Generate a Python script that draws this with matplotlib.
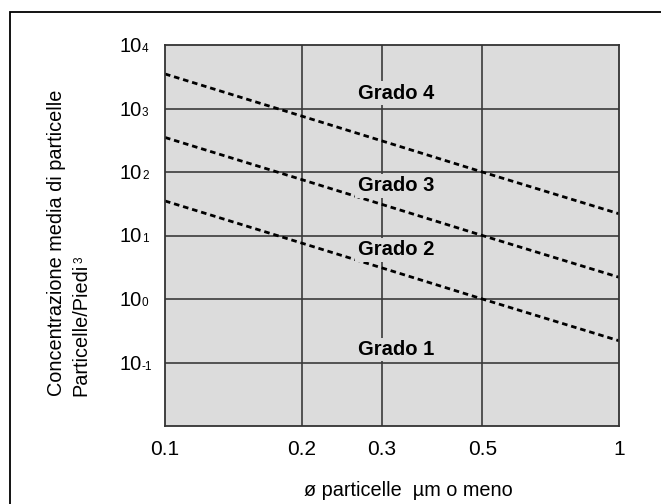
import matplotlib
matplotlib.use('Agg')
import matplotlib.pyplot as plt
import matplotlib.transforms as mtransforms
from matplotlib.patches import Rectangle

plt.rcParams['font.family'] = ['Liberation Sans', 'DejaVu Sans']

# diametro particelle (um) e limiti dei gradi
diametri = [0.1, 0.2, 0.3, 0.5, 1.0]
grado_1 = [35, 7.6, 3.1, 1.0, 0.22]
grado_2 = [350, 76, 31, 10, 2.2]
grado_3 = [3500, 760, 310, 100, 22]

etichette = ['Grado 4', 'Grado 3', 'Grado 2', 'Grado 1']
x_ticks = [0.1, 0.2, 0.3, 0.5, 1]
x_ticklabels = ['0.1', '0.2', '0.3', '0.5', '1']
griglia_x = [0.2, 0.3, 0.5]
esponenti = [-1, 0, 1, 2, 3, 4]

sfondo = '#dcdcdc'
W, H = 661, 504

fig = plt.figure(figsize=(W / 100, H / 100), dpi=100)
ax = fig.add_axes([165 / W, 1 - 426 / H, 454 / W, 381 / H])
ax.set_facecolor(sfondo)
ax.set_xscale('log')
ax.set_yscale('log')
ax.set_xlim(0.1, 1)
ax.set_ylim(1e-2, 1e4)

# griglia
for e in esponenti[:-1]:
    ax.axhline(10.0 ** e, color='#3a3a3a', lw=1.2, zorder=1)
for g in griglia_x:
    ax.axvline(g, color='#3a3a3a', lw=1.2, zorder=1)

for serie in [grado_1, grado_2, grado_3]:
    ax.plot(diametri, serie, color='black', lw=2.0, linestyle=(0, (2.0, 1.4)), zorder=2)

# etichette dei gradi (sfondo grigio che copre la griglia)
pos_y = [0.873, 0.631, 0.463, 0.201]
for testo, yy in zip(etichette, pos_y):
    ax.text(0.509, yy, testo, transform=ax.transAxes, ha='center', va='center',
            fontsize=14.5, fontweight='bold', zorder=3,
            bbox=dict(boxstyle='square,pad=0.12', fc=sfondo, ec='none'))

for s in ax.spines.values():
    s.set_color('#333333')
    s.set_linewidth(1.3)

ax.set_xticks(x_ticks)
ax.set_xticklabels(x_ticklabels, fontsize=15)
ax.xaxis.set_minor_locator(plt.NullLocator())
ax.yaxis.set_minor_locator(plt.NullLocator())
ax.tick_params(axis='x', length=0, pad=10)
ax.set_yticks([])

# etichette asse y del tipo 10 con esponente piccolo
trasf = mtransforms.blended_transform_factory(ax.transAxes, ax.transData)
base = mtransforms.offset_copy(trasf, fig=fig, x=-23, y=-7, units='dots')
for e in esponenti:
    ax.text(0, 10.0 ** e, '10', transform=base, ha='right', va='baseline', fontsize=14.5)
    ax.text(0, 10.0 ** e, str(e), transform=base, ha='left', va='baseline', fontsize=8.5)

# titolo asse y su due righe
fig.text(57 / W, 1 - 396 / H, 'Concentrazione media di particelle', rotation=90,
         ha='center', va='bottom', fontsize=14.3)
riga2 = fig.text(81 / W, 1 - 396 / H, 'Particelle/Piedi', rotation=90,
                 ha='center', va='bottom', fontsize=14.3)
fig.canvas.draw()
bb = riga2.get_window_extent()
fig.text((bb.x0 + 0.5 * bb.width - 1) / W, (bb.y1 + 1) / H, '3', rotation=90,
         ha='center', va='bottom', fontsize=8.5)

# titolo asse x
fig.text(408 / W, 1 - 490 / H, 'ø particelle  µm o meno', ha='center', va='center', fontsize=14.3)

# cornice della figura
fig.add_artist(Rectangle((10 / W, -0.1), 1.2, 1.1 - 12 / H, transform=fig.transFigure,
                         fill=False, ec='black', lw=1.3))

fig.savefig('out.png', dpi=100)
